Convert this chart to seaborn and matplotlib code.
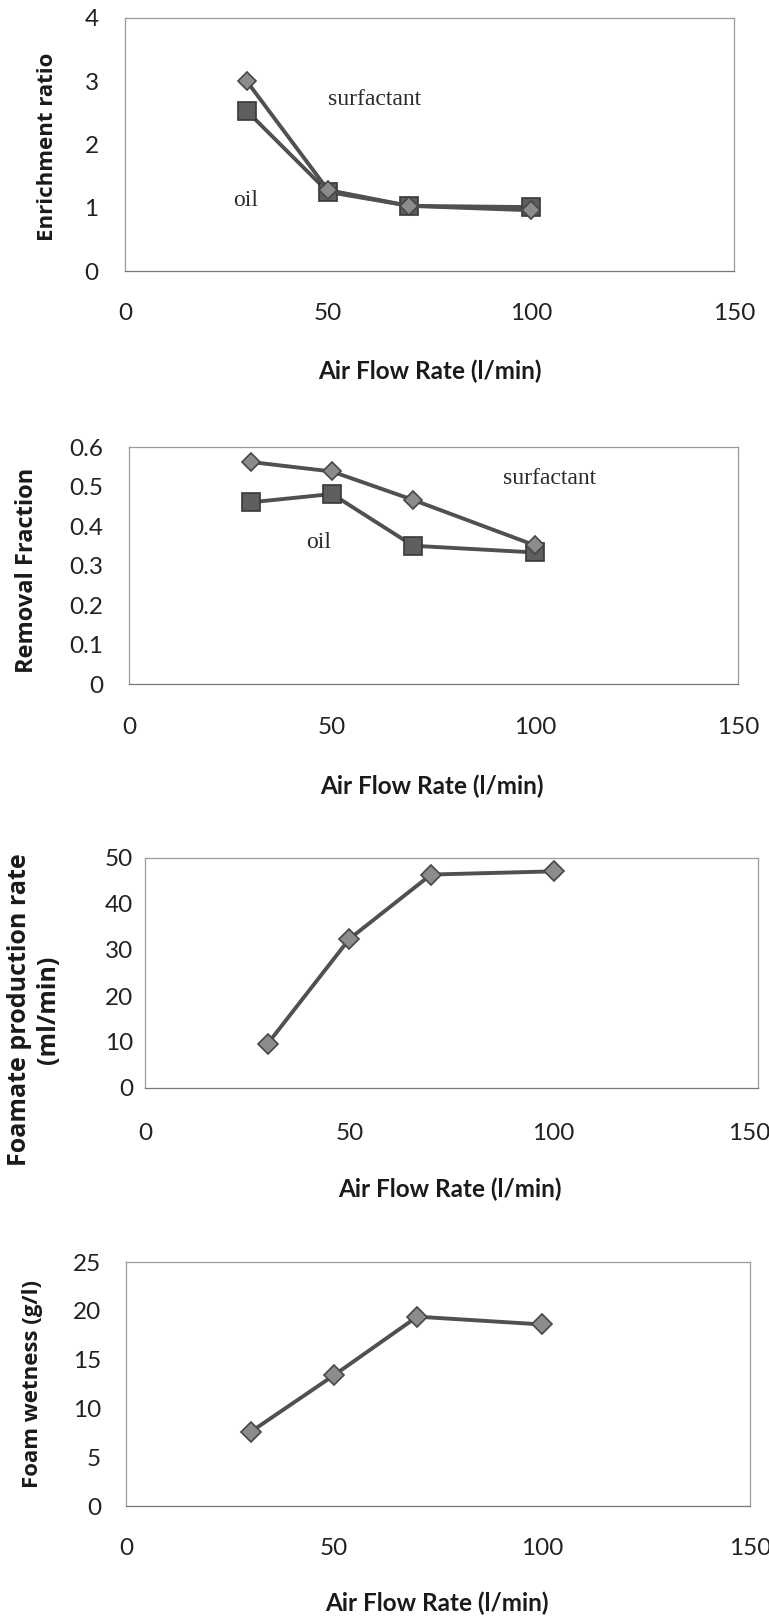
import matplotlib
matplotlib.use("Agg")
import matplotlib.pyplot as plt
import matplotlib.transforms as mtransforms
import seaborn as sns
import pandas as pd

sns.set_theme(style="white")
plt.rcParams['font.family'] = ['Lato', 'DejaVu Sans']

# ---------------- data ----------------
air_flow = [30, 50, 70, 100]

enrich_surfactant = [3.0, 1.28, 1.03, 0.96]
enrich_oil = [2.53, 1.25, 1.03, 1.01]

removal_surfactant = [0.562, 0.538, 0.466, 0.351]
removal_oil = [0.46, 0.481, 0.35, 0.333]

foamate_rate = [9.6, 32.4, 46.4, 47.1]
foam_wetness = [7.6, 13.4, 19.4, 18.6]

x_ticks = [0, 50, 100, 150]
xlabel = "Air Flow Rate (l/min)"
ylabels = ["Enrichment ratio", "Removal Fraction",
           "Foamate production rate\n(ml/min)", "Foam wetness (g/l)"]
y_ticks = [[0, 1, 2, 3, 4],
           [0, 0.1, 0.2, 0.3, 0.4, 0.5, 0.6],
           [0, 10, 20, 30, 40, 50],
           [0, 5, 10, 15, 20, 25]]
y_ticklabels = [["0", "1", "2", "3", "4"],
                ["0", "0.1", "0.2", "0.3", "0.4", "0.5", "0.6"],
                ["0", "10", "20", "30", "40", "50"],
                ["0", "5", "10", "15", "20", "25"]]

W, H = 769, 1617
fig = plt.figure(figsize=(W / 100, H / 100), dpi=100)
fig.patch.set_facecolor("white")

# pixel boxes: left, right, top, bottom
boxes = [(125, 734, 18, 271),
         (129, 738, 447, 684),
         (145, 758, 858, 1088),
         (126, 750, 1262, 1506)]
ypads = [19, 18.5, 8.5, 18]
xpads = [23, 24, 25.5, 23]
ylab_px = [[(48, 147)], [(27, 570)], [(20, 1010), (48, 1010)], [(33, 1384)]]
ylab_size = [16, 17, 18, 16]
xlab_px = [(430, 371), (432, 786), (450, 1189), (437, 1603)]

line_color = "#505050"
diamond_fc = "#8c8c8c"
diamond_ec = "#474747"
square_fc = "#5e5e5e"
square_ec = "#383838"

axes = []
for (l, r, t, b) in boxes:
    ax = fig.add_axes([l / W, 1 - b / H, (r - l) / W, (b - t) / H])
    axes.append(ax)


def draw_series(ax, y, marker, ms, fc, ec):
    df = pd.DataFrame({"x": air_flow, "y": y})
    sns.lineplot(data=df, x="x", y="y", ax=ax, color=line_color, lw=2.8,
                 marker=marker, markersize=ms, markerfacecolor=fc,
                 markeredgecolor=ec, markeredgewidth=1.2, legend=False)


draw_series(axes[0], enrich_oil, "s", 12.5, square_fc, square_ec)
draw_series(axes[0], enrich_surfactant, "D", 9, diamond_fc, diamond_ec)
draw_series(axes[1], removal_oil, "s", 13, square_fc, square_ec)
draw_series(axes[1], removal_surfactant, "D", 9.5, diamond_fc, diamond_ec)
draw_series(axes[2], foamate_rate, "D", 10, diamond_fc, diamond_ec)
draw_series(axes[3], foam_wetness, "D", 10, diamond_fc, diamond_ec)

serif = ['Liberation Serif', 'DejaVu Serif']
axes[0].text(61.5, 2.71, "surfactant", family=serif, fontsize=17,
             color="#2a2a2a", ha="center", va="center")
axes[0].text(29.6, 1.12, "oil", family=serif, fontsize=17,
             color="#2a2a2a", ha="center", va="center")
axes[1].text(103.7, 0.52, "surfactant", family=serif, fontsize=17,
             color="#2a2a2a", ha="center", va="center")
axes[1].text(46.6, 0.358, "oil", family=serif, fontsize=17,
             color="#2a2a2a", ha="center", va="center")

for i, ax in enumerate(axes):
    l, r, t, b = boxes[i]
    ax.set_xlim(0, 150)
    ax.set_ylim(y_ticks[i][0], y_ticks[i][-1])
    ax.set_xticks(x_ticks)
    ax.set_xticklabels([str(v) for v in x_ticks])
    ax.set_yticks(y_ticks[i])
    ax.set_yticklabels(y_ticklabels[i])
    ax.tick_params(axis="both", length=0, labelsize=17.5, colors="#222222")
    ax.tick_params(axis="x", pad=xpads[i])
    ax.tick_params(axis="y", pad=ypads[i])
    ax.grid(False)
    for s in ax.spines.values():
        s.set_visible(True)
        s.set_color("#9a9a9a")
        s.set_linewidth(0.9)
    ax.spines["bottom"].set_color("#777777")
    ax.set_xlabel("")
    ax.set_ylabel("")
    # x label
    xc, yc = xlab_px[i]
    ax.text((xc - l) / (r - l), (b - yc) / (b - t), xlabel,
            transform=ax.transAxes, ha="center", va="center",
            fontsize=17.5, fontweight="bold", family=['Lato', 'DejaVu Sans'],
            color="#1a1a1a")
    # y label(s)
    lines = ylabels[i].split("\n")
    for (px, py), txt in zip(ylab_px[i], lines):
        ax.text((px - l) / (r - l), (b - py) / (b - t), txt,
                transform=ax.transAxes, ha="center", va="center",
                rotation=90, fontsize=ylab_size[i], fontweight="bold",
                family=['Open Sans', 'DejaVu Sans'], color="#1a1a1a")

# keep the last x tick label of panel 3 inside the figure
lab = axes[2].get_xticklabels()[-1]
lab.set_ha("right")
lab.set_transform(lab.get_transform() +
                  mtransforms.ScaledTranslation(12 / 100, 0, fig.dpi_scale_trans))

fig.savefig("out.png", dpi=100, facecolor="white")
